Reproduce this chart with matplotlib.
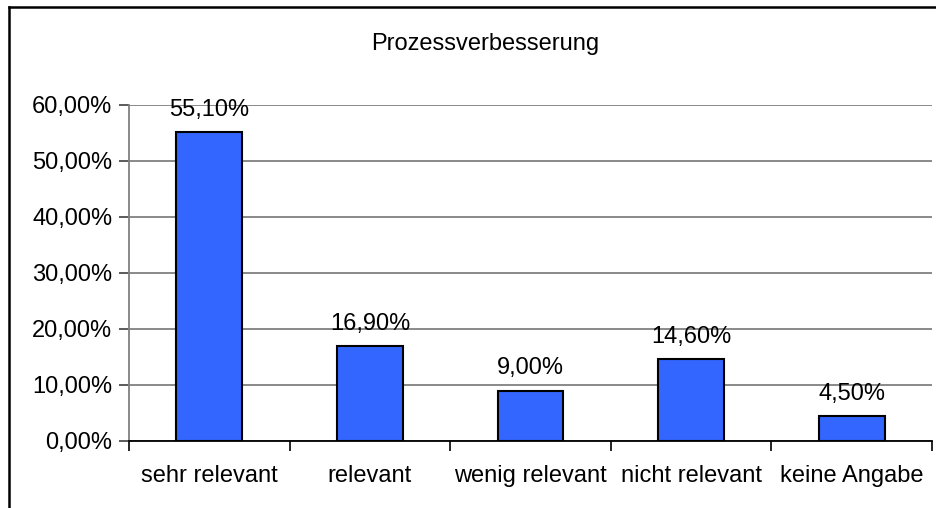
import matplotlib
matplotlib.use("Agg")
import matplotlib.pyplot as plt
from matplotlib.lines import Line2D
from matplotlib.ticker import FuncFormatter, MultipleLocator
import numpy as np

plt.rcParams["font.family"] = ["Liberation Sans", "DejaVu Sans"]

categories = ["sehr relevant", "relevant", "wenig relevant", "nicht relevant", "keine Angabe"]
values = [55.1, 16.9, 9.0, 14.6, 4.5]
title = "Prozessverbesserung"

W, H = 937, 508
fig = plt.figure(figsize=(W / 100, H / 100), dpi=100)
ax = fig.add_axes([129 / W, 1 - 441 / H, (932 - 129) / W, (441 - 105) / H])

x = np.arange(len(categories))
bars = ax.bar(x, values, width=0.41, color="#3366FF", edgecolor="black",
              linewidth=1.5, zorder=3)

for xi, v in zip(x, values):
    ax.annotate(f"{v:.2f}%".replace(".", ","), (xi, v), xytext=(0, 8),
                textcoords="offset points", ha="center", va="bottom",
                fontsize=17, zorder=4)

ax.set_xlim(-0.5, len(categories) - 0.5)
ax.set_ylim(0, 60)
ax.yaxis.set_major_locator(MultipleLocator(10))
ax.yaxis.set_major_formatter(FuncFormatter(lambda v, _: f"{v:.2f}%".replace(".", ",")))
ax.yaxis.grid(True, color="#808080", linewidth=1.3, zorder=0)

ax.set_xticks(x)
ax.set_xticklabels(categories)
ax.set_xticks(np.arange(-0.5, len(categories)), minor=True)
ax.tick_params(axis="x", which="major", length=0, pad=17, labelsize=17)
ax.tick_params(axis="x", which="minor", length=7, width=1.2, color="black")
ax.tick_params(axis="y", length=7, width=1.2, color="#404040", labelsize=17, pad=5)

for s in ["top", "right"]:
    ax.spines[s].set_visible(False)
ax.spines["left"].set_color("#808080")
ax.spines["left"].set_linewidth(1.3)
ax.spines["bottom"].set_color("black")
ax.spines["bottom"].set_linewidth(1.3)

fig.text(485 / W, 1 - 44 / H, title, ha="center", va="center", fontsize=17)

# chart area border (left and top visible)
fig.add_artist(Line2D([9 / W, 9 / W], [0, 1 - 7 / H], color="black", linewidth=1.8,
                      transform=fig.transFigure))
fig.add_artist(Line2D([9 / W, 1], [1 - 7 / H, 1 - 7 / H], color="black", linewidth=1.8,
                      transform=fig.transFigure))

fig.savefig("out.png", dpi=100)
